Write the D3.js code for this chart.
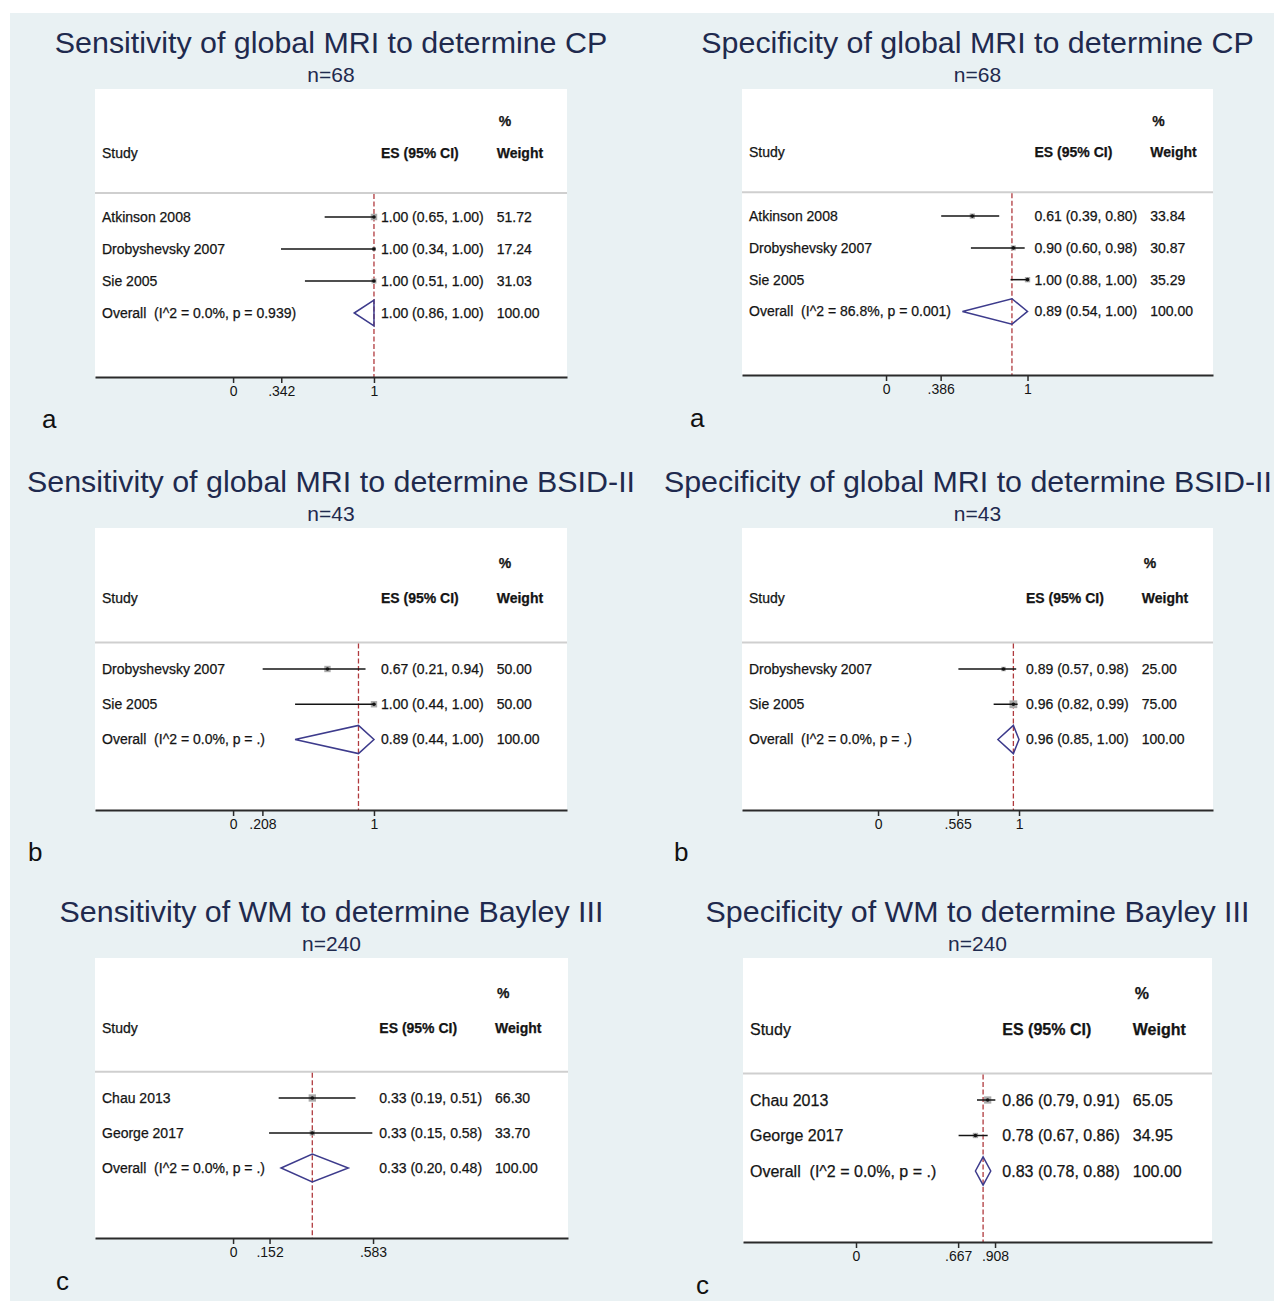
<!DOCTYPE html>
<html>
<head>
<meta charset="utf-8">
<script src="https://cdn.jsdelivr.net/npm/d3@7"></script>
<style>
  body { margin: 0; background: #ffffff; }
  text { font-family: "Liberation Sans", Arial, Helvetica, sans-serif; }
</style>
</head>
<body>
<svg id="fig" width="1274" height="1301"></svg>
<script>
// ---- data -------------------------------------------------------------
const panelTitles = [
  "Sensitivity of global MRI to determine CP",
  "Specificity of global MRI to determine CP",
  "Sensitivity of global MRI to determine BSID-II",
  "Specificity of global MRI to determine BSID-II",
  "Sensitivity of WM to determine Bayley III",
  "Specificity of WM to determine Bayley III"
];
const panelN = ["n=68", "n=68", "n=43", "n=43", "n=240", "n=240"];
const panelLetters = ["a", "a", "b", "b", "c", "c"];

const studyNames = [
  ["Atkinson 2008", "Drobyshevsky 2007", "Sie 2005"],
  ["Atkinson 2008", "Drobyshevsky 2007", "Sie 2005"],
  ["Drobyshevsky 2007", "Sie 2005"],
  ["Drobyshevsky 2007", "Sie 2005"],
  ["Chau 2013", "George 2017"],
  ["Chau 2013", "George 2017"]
];
const overallLabels = [
  "Overall  (I^2 = 0.0%, p = 0.939)",
  "Overall  (I^2 = 86.8%, p = 0.001)",
  "Overall  (I^2 = 0.0%, p = .)",
  "Overall  (I^2 = 0.0%, p = .)",
  "Overall  (I^2 = 0.0%, p = .)",
  "Overall  (I^2 = 0.0%, p = .)"
];
// last entry of each list is the pooled (overall) estimate
const estimates = [
  [1.00, 1.00, 1.00, 1.00],
  [0.61, 0.90, 1.00, 0.89],
  [0.67, 1.00, 0.89],
  [0.89, 0.96, 0.96],
  [0.33, 0.33, 0.33],
  [0.86, 0.78, 0.83]
];
const lowerCI = [
  [0.65, 0.34, 0.51, 0.86],
  [0.39, 0.60, 0.88, 0.54],
  [0.21, 0.44, 0.44],
  [0.57, 0.82, 0.85],
  [0.19, 0.15, 0.20],
  [0.79, 0.67, 0.78]
];
const upperCI = [
  [1.00, 1.00, 1.00, 1.00],
  [0.80, 0.98, 1.00, 1.00],
  [0.94, 1.00, 1.00],
  [0.98, 0.99, 1.00],
  [0.51, 0.58, 0.48],
  [0.91, 0.86, 0.88]
];
const weights = [
  [51.72, 17.24, 31.03, 100.00],
  [33.84, 30.87, 35.29, 100.00],
  [50.00, 50.00, 100.00],
  [25.00, 75.00, 100.00],
  [66.30, 33.70, 100.00],
  [65.05, 34.95, 100.00]
];
const axisTicks = [
  [0, 0.342, 1],
  [0, 0.386, 1],
  [0, 0.208, 1],
  [0, 0.565, 1],
  [0, 0.152, 0.583],
  [0, 0.667, 0.908]
];

// ---- layout -----------------------------------------------------------
// white plot regions: left, top, width, height (axis sits on the bottom edge)
const plotBoxes = [
  { x: 95,  y: 89,  w: 472, h: 288 },
  { x: 742, y: 89,  w: 471, h: 286 },
  { x: 95,  y: 528, w: 472, h: 282 },
  { x: 742, y: 528, w: 471, h: 282 },
  { x: 95,  y: 958, w: 473, h: 280 },
  { x: 743, y: 958, w: 469, h: 284 }
];
// horizontal axis range covered by each plot region
const xExtents = [
  [-0.98, 2.37],
  [-1.018, 2.311],
  [-0.98, 2.37],
  [-0.965, 2.376],
  [-0.575, 1.395],
  [-0.738, 2.325]
];
const bodyFont = [14, 14, 14, 14, 14, 16];
const letterPos = [[42, 428], [690, 427], [28, 861], [674, 861], [56, 1290], [696, 1294]];

const C = {
  bg: "#e9f1f3",
  title: "#1f2a4e",
  text: "#141414",
  header: "#cfcfcf",
  axis: "#2a2a2a",
  ref: "#b03a3e",
  diamond: "#3d3b8c",
  box: "#ababab"
};

const svg = d3.select("#fig");
svg.append("rect").attr("x", 0).attr("y", 0).attr("width", 1274).attr("height", 1301).attr("fill", "#ffffff");
svg.append("rect").attr("x", 10).attr("y", 13).attr("width", 1264).attr("height", 1288).attr("fill", C.bg);

const f2 = d3.format(".2f");
const tickFmt = v => (v === 0 || v === 1) ? String(v) : d3.format(".3~f")(v).replace(/^0\./, ".");

plotBoxes.forEach((p, i) => {
  const g = svg.append("g");
  const nRows = studyNames[i].length + 1;
  const x = d3.scaleLinear().domain(xExtents[i]).range([p.x, p.x + p.w]);
  const y = d3.scaleLinear().domain([-4, nRows + 1]).range([p.y, p.y + p.h]);
  const fs = bodyFont[i];
  const cx = p.x + p.w / 2;

  // titles (a long title is kept inside the right page edge)
  const title = g.append("text").attr("x", cx).attr("y", p.y - 36).attr("text-anchor", "middle")
    .attr("font-size", 30.4).attr("fill", C.title).text(panelTitles[i]);
  const tw = title.node().getComputedTextLength();
  if (cx + tw / 2 > 1272) title.attr("text-anchor", "end").attr("x", 1272);
  g.append("text").attr("x", cx).attr("y", p.y - 7).attr("text-anchor", "middle")
    .attr("font-size", 21).attr("fill", C.title).text(panelN[i]);

  // plot region
  g.append("rect").attr("x", p.x).attr("y", p.y).attr("width", p.w).attr("height", p.h).attr("fill", "#ffffff");
  const yLine = y(-0.75);
  g.append("line").attr("x1", p.x).attr("x2", p.x + p.w).attr("y1", yLine).attr("y2", yLine)
    .attr("stroke", C.header).attr("stroke-width", 2);

  const rows = studyNames[i].map((name, j) => ({
    name, est: estimates[i][j], lo: lowerCI[i][j], hi: upperCI[i][j], w: weights[i][j], r: j
  }));
  const overall = {
    name: overallLabels[i], est: estimates[i][nRows - 1], lo: lowerCI[i][nRows - 1],
    hi: upperCI[i][nRows - 1], w: weights[i][nRows - 1], r: nRows - 1
  };
  const all = rows.concat([overall]);

  // column positions
  const esX = x(d3.max(upperCI[i])) + 7;
  const esTexts = all.map(d => `${f2(d.est)} (${f2(d.lo)}, ${f2(d.hi)})`);

  // header
  const hdr = g.append("g").attr("fill", C.text).attr("font-size", fs)
    .attr("stroke", C.text).attr("stroke-width", 0.25);
  hdr.append("text").attr("x", p.x + 7).attr("y", y(-2)).attr("dy", "0.35em").text("Study");
  hdr.append("text").attr("x", esX).attr("y", y(-2)).attr("dy", "0.35em").attr("font-weight", 700).text("ES (95% CI)");

  // study labels and ES column
  const txt = g.append("g").attr("fill", C.text).attr("font-size", fs)
    .attr("stroke", C.text).attr("stroke-width", 0.25);
  txt.selectAll("text.lab").data(all).join("text").attr("class", "lab")
    .attr("x", p.x + 7).attr("y", d => y(d.r)).attr("dy", "0.35em")
    .attr("xml:space", "preserve").style("white-space", "pre").text(d => d.name);
  const es = txt.selectAll("text.es").data(all).join("text").attr("class", "es")
    .attr("x", esX).attr("y", d => y(d.r)).attr("dy", "0.35em").text((d, j) => esTexts[j]);
  let esW = 0;
  es.each(function () { esW = Math.max(esW, this.getComputedTextLength()); });
  const wX = esX + esW + 13;
  txt.selectAll("text.wt").data(all).join("text").attr("class", "wt")
    .attr("x", wX).attr("y", d => y(d.r)).attr("dy", "0.35em").text(d => f2(d.w));
  hdr.append("text").attr("x", wX + 2).attr("y", y(-3)).attr("dy", "0.35em").attr("font-weight", 700).text("%");
  hdr.append("text").attr("x", wX).attr("y", y(-2)).attr("dy", "0.35em").attr("font-weight", 700).text("Weight");

  // pooled estimate reference line
  g.append("line").attr("x1", x(overall.est)).attr("x2", x(overall.est))
    .attr("y1", yLine + 1).attr("y2", p.y + p.h)
    .attr("stroke", C.ref).attr("stroke-width", 1.3).attr("stroke-dasharray", "5,2.5");

  // study weights (boxes), confidence intervals and point estimates
  const marks = g.append("g");
  marks.selectAll("rect.wbox").data(rows).join("rect").attr("class", "wbox")
    .attr("x", d => x(d.est) - Math.sqrt(d.w) * 0.45)
    .attr("y", d => y(d.r) - Math.sqrt(d.w) * 0.45)
    .attr("width", d => Math.sqrt(d.w) * 0.9).attr("height", d => Math.sqrt(d.w) * 0.9)
    .attr("fill", C.box);
  marks.selectAll("line.ci").data(rows).join("line").attr("class", "ci")
    .attr("x1", d => x(d.lo)).attr("x2", d => x(d.hi))
    .attr("y1", d => y(d.r)).attr("y2", d => y(d.r))
    .attr("stroke", C.text).attr("stroke-width", 1.5);
  marks.selectAll("circle.pt").data(rows).join("circle").attr("class", "pt")
    .attr("cx", d => x(d.est)).attr("cy", d => y(d.r)).attr("r", 1.8).attr("fill", C.text);

  // pooled diamond
  const hh = (y(1) - y(0)) * 0.4;
  const yc = y(overall.r);
  g.append("path")
    .attr("d", `M${x(overall.lo)},${yc}L${x(overall.est)},${yc - hh}L${x(overall.hi)},${yc}L${x(overall.est)},${yc + hh}Z`)
    .attr("fill", "none").attr("stroke", C.diamond).attr("stroke-width", 1.5).attr("stroke-linejoin", "miter");

  // x axis
  const ax = g.append("g").attr("transform", `translate(0,${p.y + p.h})`)
    .call(d3.axisBottom(x).tickValues(axisTicks[i]).tickFormat(tickFmt).tickSize(6).tickSizeOuter(0));
  ax.select(".domain").attr("stroke", C.axis).attr("stroke-width", 2);
  ax.selectAll(".tick line").attr("stroke", C.axis).attr("stroke-width", 1.5);
  ax.selectAll(".tick text").attr("fill", C.text).attr("font-size", 14)
    .attr("font-family", "\"Liberation Sans\", Arial, sans-serif").attr("y", 9);

  // panel letter
  svg.append("text").attr("x", letterPos[i][0]).attr("y", letterPos[i][1])
    .attr("font-size", 26).attr("fill", "#111").text(panelLetters[i]);
});
</script>
</body>
</html>
